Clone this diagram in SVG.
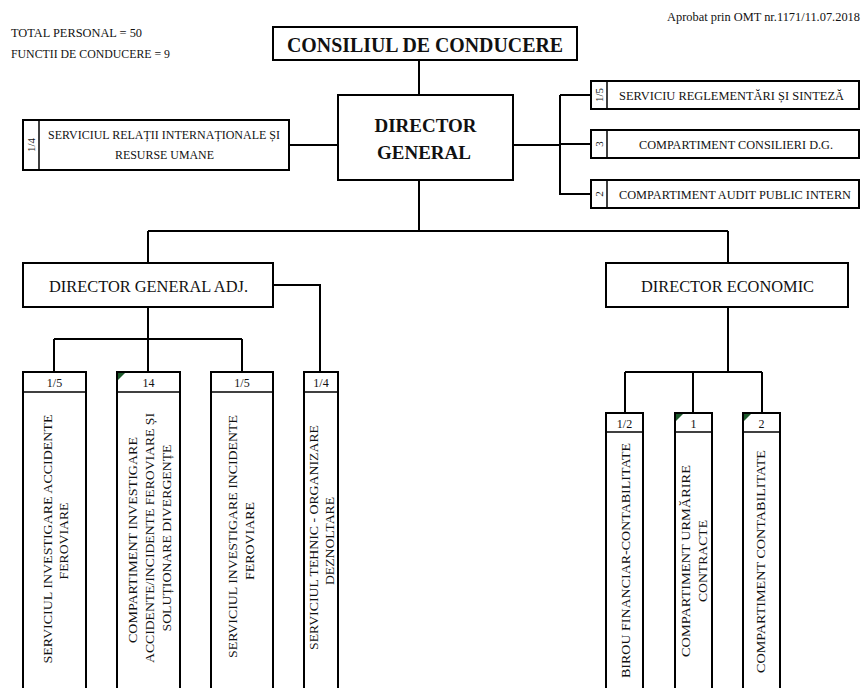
<svg xmlns="http://www.w3.org/2000/svg" width="861" height="688" viewBox="0 0 861 688" font-family="'Liberation Serif', 'DejaVu Serif', 'Times New Roman', serif">
<style>
.box{fill:#fff;stroke:#000;stroke-width:2}
.div{stroke:#000;stroke-width:1.5;fill:none}
.conn{stroke:#000;stroke-width:2;fill:none}
text{font-family:'Liberation Serif','DejaVu Serif','Times New Roman',serif;fill:#111}
.b{font-weight:bold}
.s{font-size:12px}
.m{font-size:16px}
.v{font-size:13.5px;text-anchor:middle}
.c{text-anchor:middle}
.tri{fill:#1d5a2c}
</style>
<rect x="0" y="0" width="861" height="688" fill="#fff"/>
<g id="info">
<text class="s" x="11" y="37" textLength="131" lengthAdjust="spacingAndGlyphs">TOTAL PERSONAL = 50</text>
<text class="s" x="11" y="58" textLength="159" lengthAdjust="spacingAndGlyphs">FUNCTII DE CONDUCERE = 9</text>
<text class="s" x="667" y="21" textLength="193" lengthAdjust="spacingAndGlyphs">Aprobat prin OMT nr.1171/11.07.2018</text>
</g>
<g id="connectors">
<path class="conn" d="M419,60V95"/>
<path class="conn" d="M338,145H289"/>
<path class="conn" d="M513,145H560M560,95V195M560,95H591M560,144H591M560,194H591"/>
<path class="conn" d="M419,180V231M148,231H728M148,231V263M728,231V263"/>
<path class="conn" d="M148,307V339M54,339H242M54,339V372M148,339V372M242,339V372"/>
<path class="conn" d="M273,285H320V372"/>
<path class="conn" d="M728,307V372M625,372H762M625,372V413M693,372V413M762,372V413"/>
</g>
<g id="consiliul">
<rect class="box" x="273" y="27" width="304" height="33"/>
<text class="b c" x="425" y="52" font-size="20" textLength="276" lengthAdjust="spacingAndGlyphs">CONSILIUL DE CONDUCERE</text>
</g>
<g id="director-general">
<rect class="box" x="338" y="95" width="175" height="85"/>
<text class="b c" x="425.5" y="132" font-size="19" textLength="102" lengthAdjust="spacingAndGlyphs">DIRECTOR</text>
<text class="b c" x="424" y="159" font-size="19" textLength="94" lengthAdjust="spacingAndGlyphs">GENERAL</text>
</g>
<g id="serviciul-relatii">
<rect class="box" x="23" y="120" width="266" height="50"/>
<line class="div" x1="39" y1="120" x2="39" y2="170"/>
<text class="c" transform="translate(35,145) rotate(-90)" font-size="11">1/4</text>
<text class="s c" x="164" y="139" textLength="232" lengthAdjust="spacingAndGlyphs">SERVICIUL RELAȚII INTERNAȚIONALE ȘI</text>
<text class="s c" x="164.5" y="159" textLength="99" lengthAdjust="spacingAndGlyphs">RESURSE UMANE</text>
</g>
<g id="serviciu-reglementari">
<rect class="box" x="591" y="81" width="268" height="28"/>
<line class="div" x1="607" y1="81" x2="607" y2="109"/>
<text class="c" transform="translate(603,95) rotate(-90)" font-size="11">1/5</text>
<text class="s c" x="731.5" y="100" textLength="225" lengthAdjust="spacingAndGlyphs">SERVICIU REGLEMENTĂRI ȘI SINTEZĂ</text>
</g>
<g id="compartiment-consilieri">
<rect class="box" x="591" y="130" width="268" height="28"/>
<line class="div" x1="607" y1="130" x2="607" y2="158"/>
<text class="c" transform="translate(603,144) rotate(-90)" font-size="11">3</text>
<text class="s c" x="736" y="149" textLength="194" lengthAdjust="spacingAndGlyphs">COMPARTIMENT CONSILIERI D.G.</text>
</g>
<g id="compartiment-audit">
<rect class="box" x="591" y="180" width="268" height="28"/>
<line class="div" x1="607" y1="180" x2="607" y2="208"/>
<text class="c" transform="translate(603,194) rotate(-90)" font-size="11">2</text>
<text class="s c" x="735" y="199" textLength="232" lengthAdjust="spacingAndGlyphs">COMPARTIMENT AUDIT PUBLIC INTERN</text>
</g>
<g id="director-general-adj">
<rect class="box" x="23" y="263" width="250" height="44"/>
<text class="m c" x="148.5" y="292" textLength="199" lengthAdjust="spacingAndGlyphs">DIRECTOR GENERAL ADJ.</text>
</g>
<g id="director-economic">
<rect class="box" x="606" y="263" width="242" height="44"/>
<text class="m c" x="727.5" y="292" textLength="173" lengthAdjust="spacingAndGlyphs">DIRECTOR ECONOMIC</text>
</g>
<g id="serviciul-accidente">
<rect class="box" x="23" y="372" width="63" height="330"/>
<line class="div" x1="23" y1="392" x2="86" y2="392"/>
<text class="s c" x="54.5" y="387">1/5</text>
<text class="v" transform="translate(52,539) rotate(-90)" textLength="249" lengthAdjust="spacingAndGlyphs">SERVICIUL INVESTIGARE ACCIDENTE</text>
<text class="v" transform="translate(68,541) rotate(-90)" textLength="77" lengthAdjust="spacingAndGlyphs">FEROVIARE</text>
</g>
<g id="compartiment-investigare">
<rect class="box" x="117" y="372" width="63" height="330"/>
<line class="div" x1="117" y1="392" x2="180" y2="392"/>
<polygon class="tri" points="118,373 125,373 118,380"/>
<text class="s c" x="148.5" y="387">14</text>
<text class="v" transform="translate(137,540) rotate(-90)" textLength="206" lengthAdjust="spacingAndGlyphs">COMPARTIMENT INVESTIGARE</text>
<text class="v" transform="translate(154,538) rotate(-90)" textLength="250" lengthAdjust="spacingAndGlyphs">ACCIDENTE/INCIDENTE FEROVIARE ȘI</text>
<text class="v" transform="translate(171,538) rotate(-90)" textLength="187" lengthAdjust="spacingAndGlyphs">SOLUȚIONARE DIVERGENȚE</text>
</g>
<g id="serviciul-incidente">
<rect class="box" x="211" y="372" width="62" height="330"/>
<line class="div" x1="211" y1="392" x2="273" y2="392"/>
<text class="s c" x="242" y="387">1/5</text>
<text class="v" transform="translate(237,536.5) rotate(-90)" textLength="243" lengthAdjust="spacingAndGlyphs">SERVICIUL INVESTIGARE INCIDENTE</text>
<text class="v" transform="translate(254,541) rotate(-90)" textLength="78" lengthAdjust="spacingAndGlyphs">FEROVIARE</text>
</g>
<g id="serviciul-tehnic">
<rect class="box" x="304" y="372" width="34" height="330"/>
<line class="div" x1="304" y1="392" x2="338" y2="392"/>
<text class="s c" x="321" y="387">1/4</text>
<text class="v" transform="translate(318,537.5) rotate(-90)" textLength="225" lengthAdjust="spacingAndGlyphs">SERVICIUL TEHNIC - ORGANIZARE</text>
<text class="v" transform="translate(334,541) rotate(-90)" textLength="88" lengthAdjust="spacingAndGlyphs">DEZNOLTARE</text>
</g>
<g id="birou-financiar">
<rect class="box" x="606" y="413" width="37" height="290"/>
<line class="div" x1="606" y1="432" x2="643" y2="432"/>
<text class="s c" x="624.5" y="428">1/2</text>
<text class="v" transform="translate(630,560.5) rotate(-90)" textLength="235" lengthAdjust="spacingAndGlyphs">BIROU FINANCIAR-CONTABILITATE</text>
</g>
<g id="compartiment-urmarire">
<rect class="box" x="675" y="413" width="37" height="290"/>
<line class="div" x1="675" y1="432" x2="712" y2="432"/>
<polygon class="tri" points="676,414 683,414 676,421"/>
<text class="s c" x="693.5" y="428">1</text>
<text class="v" transform="translate(690,561) rotate(-90)" textLength="192" lengthAdjust="spacingAndGlyphs">COMPARTIMENT URMĂRIRE</text>
<text class="v" transform="translate(707,561) rotate(-90)" textLength="82" lengthAdjust="spacingAndGlyphs">CONTRACTE</text>
</g>
<g id="compartiment-contabilitate">
<rect class="box" x="743" y="413" width="37" height="290"/>
<line class="div" x1="743" y1="432" x2="780" y2="432"/>
<polygon class="tri" points="744,414 751,414 744,421"/>
<text class="s c" x="761.5" y="428">2</text>
<text class="v" transform="translate(765,561.5) rotate(-90)" textLength="223" lengthAdjust="spacingAndGlyphs">COMPARTIMENT CONTABILITATE</text>
</g>
</svg>
